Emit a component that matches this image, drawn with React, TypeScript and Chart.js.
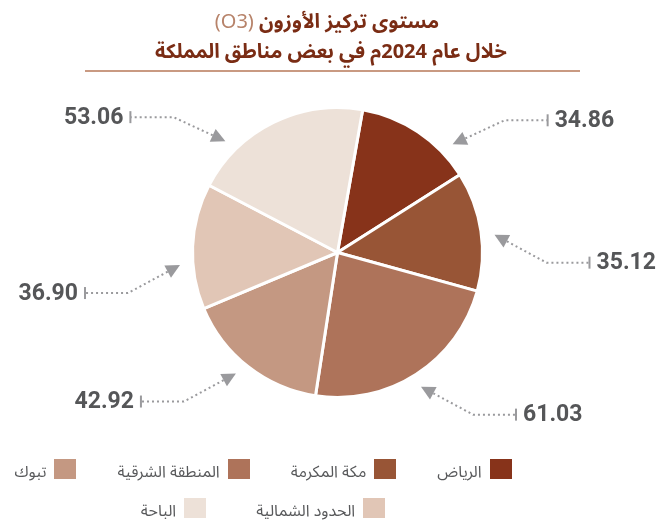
import React, { useEffect, useRef } from 'react';
import { Chart, registerables } from 'chart.js';

Chart.register(...registerables);

// ---- data ----
const regions = ['الرياض', 'مكة المكرمة', 'المنطقة الشرقية', 'تبوك', 'الحدود الشمالية', 'الباحة'];
const o3Values = [34.86, 35.12, 61.03, 42.92, 36.9, 53.06];
const sliceColors = ['#87331A', '#985536', '#AE735A', '#C49882', '#E1C6B6', '#EDE1D8'];
const titleMain = 'مستوى تركيز الأوزون';
const titleFormula = '(O3)';
const subtitle = 'خلال عام 2024م في بعض مناطق المملكة';

// ---- callout layout (degrees nudge from slice middle) ----
const calloutAngleNudge = [13, 2, 1, 2, -7, -19];

const ARABIC_FONT = '"Noto Sans Arabic", "DejaVu Sans", sans-serif';
const LINE_COLOR = '#9A9A9D';
const VALUE_COLOR = '#555658';

const calloutPlugin = {
  id: 'callouts',
  afterDatasetsDraw(chart: any) {
    const ctx = chart.ctx;
    const meta = chart.getDatasetMeta(0);
    meta.data.forEach((arc: any, i: number) => {
      const p = arc.getProps(['x', 'y', 'startAngle', 'endAngle', 'outerRadius'], true);
      const mid = (p.startAngle + p.endAngle) / 2 + (calloutAngleNudge[i] * Math.PI) / 180;
      const tipR = p.outerRadius + 13;
      const tx = p.x + Math.cos(mid) * tipR;
      const ty = p.y + Math.sin(mid) * tipR;
      const side = Math.cos(mid) >= 0 ? 1 : -1;
      const up = ty < p.y - p.outerRadius * 0.6;
      const ex = tx + side * 52;
      const ey = ty + (up ? -24 : 28);
      const tickX = ex + side * 43;

      let dx = tx - ex, dy = ty - ey;
      const len = Math.hypot(dx, dy);
      dx /= len; dy /= len;
      const aLen = 14, aHalf = 7;
      const bx = tx - dx * aLen, by = ty - dy * aLen;

      ctx.save();
      ctx.strokeStyle = LINE_COLOR;
      ctx.lineWidth = 2;
      ctx.setLineDash([2, 3]);
      ctx.beginPath();
      ctx.moveTo(bx, by);
      ctx.lineTo(ex, ey);
      ctx.lineTo(tickX, ey);
      ctx.stroke();
      ctx.setLineDash([]);
      ctx.beginPath();
      ctx.moveTo(tickX, ey - 6);
      ctx.lineTo(tickX, ey + 6);
      ctx.stroke();
      ctx.fillStyle = LINE_COLOR;
      ctx.beginPath();
      ctx.moveTo(tx, ty);
      ctx.lineTo(bx - dy * aHalf, by + dx * aHalf);
      ctx.lineTo(bx + dy * aHalf, by - dx * aHalf);
      ctx.closePath();
      ctx.fill();
      ctx.fillStyle = VALUE_COLOR;
      ctx.font = 'bold 23px Roboto, sans-serif';
      ctx.textBaseline = 'middle';
      ctx.textAlign = side > 0 ? 'left' : 'right';
      ctx.fillText(o3Values[i].toFixed(2), tickX + side * 7, ey + 1);
      ctx.restore();
    });
  },
};

export default function App() {
  const canvasRef = useRef<HTMLCanvasElement | null>(null);

  useEffect(() => {
    document.body.style.margin = '0';
    const chart = new Chart(canvasRef.current as HTMLCanvasElement, {
      type: 'pie',
      data: {
        labels: regions,
        datasets: [
          {
            data: o3Values,
            backgroundColor: sliceColors,
            borderColor: '#ffffff',
            borderWidth: 3,
          },
        ],
      },
      options: {
        responsive: false,
        animation: false,
        rotation: 10,
        layout: { padding: { left: 191, right: 178, top: 106, bottom: 126 } },
        plugins: {
          legend: { display: false },
          tooltip: { enabled: false },
          title: { display: false },
        },
      },
      plugins: [calloutPlugin],
    } as any);
    return () => chart.destroy();
  }, []);

  const rows = [regions.slice(0, 4).map((r, i) => i), regions.slice(4).map((r, i) => i + 4)];

  return (
    <div style={{ position: 'absolute', left: 0, top: 0, width: 662, height: 525, background: '#fff', overflow: 'hidden' }}>
      <canvas ref={canvasRef} width={662} height={525} style={{ position: 'absolute', left: 0, top: 0 }} />
      <div
        style={{
          position: 'absolute',
          top: 7,
          left: 0,
          width: 662,
          textAlign: 'center',
          direction: 'rtl',
          fontFamily: ARABIC_FONT,
          fontWeight: 700,
          color: '#7A2C14',
          fontSize: 20,
          lineHeight: '30px',
        }}
      >
        <div style={{ paddingRight: 8 }}>
          {titleMain} <span style={{ color: '#B7836A', fontWeight: 400 }}>{titleFormula}</span>
        </div>
        <div>{subtitle}</div>
      </div>
      <div style={{ position: 'absolute', top: 70, left: 85, width: 495, height: 2, background: '#C99A82' }} />
      <div
        style={{
          position: 'absolute',
          top: 459,
          left: 0,
          width: 526,
          direction: 'rtl',
          fontFamily: ARABIC_FONT,
          fontSize: 16,
          color: '#58595B',
        }}
      >
        {rows.map((row, ri) => (
          <div
            key={ri}
            style={{ display: 'flex', justifyContent: 'center', gap: ri === 0 ? 41 : 50, height: 20, marginBottom: 19, alignItems: 'center' }}
          >
            {row.map((idx) => (
              <div key={idx} style={{ display: 'flex', alignItems: 'center' }}>
                <span style={{ display: 'inline-block', width: 22, height: 20, background: sliceColors[idx], marginLeft: 8 }} />
                <span style={{ whiteSpace: 'nowrap', position: 'relative', top: 3 }}>{regions[idx]}</span>
              </div>
            ))}
          </div>
        ))}
      </div>
    </div>
  );
}
